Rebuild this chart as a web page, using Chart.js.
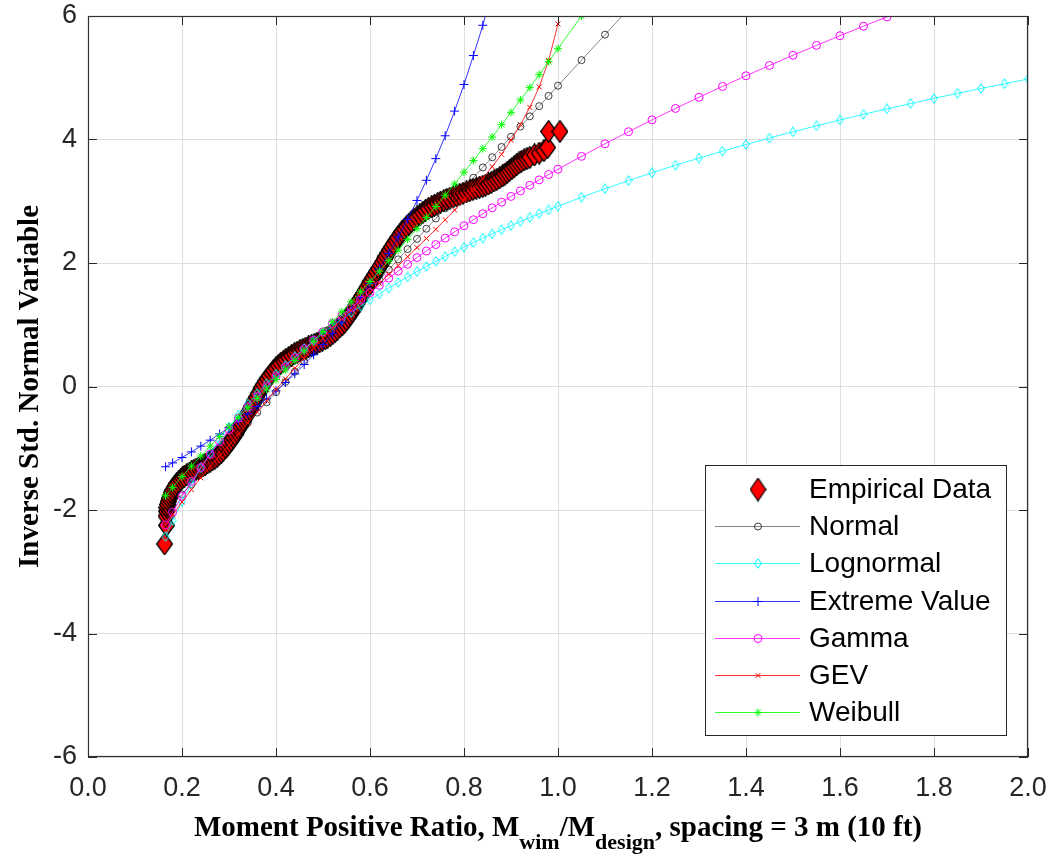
<!DOCTYPE html>
<html>
<head>
<meta charset="utf-8">
<title>Moment Positive Ratio - probability plot</title>
<script src="https://cdn.jsdelivr.net/npm/chart.js@4.4.1/dist/chart.umd.min.js"></script>
<style>
  html, body { margin: 0; padding: 0; background: #fff; }
  #wrap { width: 1053px; height: 856px; }
</style>
</head>
<body>
<div id="wrap"><canvas id="plot" width="1053" height="856"></canvas></div>
<script>
// 经验数据 (Mwim/Mdesign 与 标准正态逆变量)
const empX = [0.163, 0.167, 0.166, 0.167, 0.168, 0.169, 0.171, 0.173, 0.175, 0.177,
  0.180, 0.183, 0.186, 0.189, 0.193, 0.197, 0.201, 0.205, 0.210, 0.215,
  0.220, 0.225, 0.230, 0.235, 0.240, 0.245, 0.250, 0.255, 0.260, 0.265,
  0.270, 0.275, 0.279, 0.284, 0.288, 0.293, 0.297, 0.301, 0.305, 0.309,
  0.313, 0.317, 0.320, 0.324, 0.327, 0.331, 0.334, 0.338, 0.341, 0.345,
  0.348, 0.352, 0.355, 0.359, 0.362, 0.366, 0.369, 0.373, 0.377, 0.382,
  0.386, 0.391, 0.395, 0.400, 0.405, 0.410, 0.416, 0.421, 0.427, 0.433,
  0.439, 0.445, 0.451, 0.457, 0.463, 0.469, 0.475, 0.481, 0.487, 0.493,
  0.499, 0.505, 0.510, 0.516, 0.521, 0.526, 0.531, 0.536, 0.541, 0.546,
  0.550, 0.554, 0.558, 0.562, 0.566, 0.570, 0.574, 0.578, 0.582, 0.586,
  0.590, 0.594, 0.598, 0.602, 0.606, 0.610, 0.614, 0.618, 0.622, 0.626,
  0.630, 0.634, 0.638, 0.642, 0.646, 0.650, 0.655, 0.659, 0.664, 0.668,
  0.673, 0.678, 0.683, 0.688, 0.694, 0.700, 0.706, 0.712, 0.718, 0.724,
  0.731, 0.737, 0.744, 0.750, 0.757, 0.763, 0.770, 0.777, 0.784, 0.791,
  0.798, 0.805, 0.812, 0.819, 0.826, 0.833, 0.840, 0.846, 0.852, 0.858,
  0.864, 0.870, 0.876, 0.882, 0.887, 0.892, 0.897, 0.902, 0.907, 0.912,
  0.917, 0.922, 0.928, 0.934, 0.940, 0.950, 0.960, 0.970, 0.978, 0.980,
  1.004];
const empY = [-2.55, -2.25, -2.10, -2.02, -1.96, -1.91, -1.86, -1.81, -1.77, -1.72,
  -1.68, -1.64, -1.61, -1.57, -1.54, -1.51, -1.48, -1.455, -1.43, -1.405,
  -1.38, -1.36, -1.34, -1.32, -1.30, -1.28, -1.26, -1.235, -1.21, -1.185,
  -1.16, -1.13, -1.10, -1.065, -1.03, -0.99, -0.95, -0.91, -0.87, -0.825,
  -0.78, -0.735, -0.69, -0.645, -0.60, -0.555, -0.51, -0.465, -0.42, -0.37,
  -0.32, -0.27, -0.22, -0.17, -0.12, -0.07, -0.02, 0.03, 0.08, 0.125,
  0.17, 0.215, 0.26, 0.30, 0.34, 0.375, 0.41, 0.44, 0.47, 0.50,
  0.53, 0.555, 0.58, 0.60, 0.62, 0.64, 0.66, 0.68, 0.70, 0.725,
  0.75, 0.775, 0.80, 0.83, 0.86, 0.895, 0.93, 0.965, 1.00, 1.04,
  1.08, 1.125, 1.17, 1.215, 1.26, 1.31, 1.36, 1.41, 1.46, 1.51,
  1.56, 1.61, 1.66, 1.71, 1.76, 1.81, 1.86, 1.91, 1.96, 2.01,
  2.06, 2.11, 2.16, 2.21, 2.26, 2.31, 2.36, 2.41, 2.46, 2.505,
  2.55, 2.59, 2.63, 2.67, 2.71, 2.745, 2.78, 2.815, 2.85, 2.88,
  2.91, 2.935, 2.96, 2.985, 3.01, 3.03, 3.05, 3.07, 3.09, 3.11,
  3.13, 3.15, 3.17, 3.19, 3.21, 3.225, 3.24, 3.26, 3.28, 3.305,
  3.33, 3.355, 3.38, 3.41, 3.44, 3.47, 3.50, 3.53, 3.56, 3.59,
  3.62, 3.645, 3.67, 3.69, 3.71, 3.75, 3.78, 3.82, 3.87, 4.13,
  4.13];

// 拟合曲线的横坐标
const fitX = [0.165, 0.18, 0.20, 0.22, 0.24, 0.26, 0.28, 0.30, 0.32, 0.34,
  0.36, 0.38, 0.40, 0.42, 0.44, 0.46, 0.48, 0.50, 0.52, 0.54,
  0.56, 0.58, 0.60, 0.62, 0.64, 0.66, 0.68, 0.70, 0.72, 0.74,
  0.76, 0.78, 0.80, 0.82, 0.84, 0.86, 0.88, 0.90, 0.92, 0.94,
  0.96, 0.98, 1.00, 1.05, 1.10, 1.15, 1.20, 1.25, 1.30, 1.35,
  1.40, 1.45, 1.50, 1.55, 1.60, 1.65, 1.70, 1.75, 1.80, 1.85,
  1.90, 1.95, 2.00];

const normalY = [-2.03, -1.91, -1.745, -1.58, -1.414, -1.249, -1.083, -0.918, -0.753, -0.587,
  -0.422, -0.256, -0.091, 0.074, 0.24, 0.405, 0.571, 0.736, 0.901, 1.067,
  1.232, 1.398, 1.563, 1.728, 1.894, 2.059, 2.225, 2.39, 2.555, 2.721,
  2.886, 3.052, 3.217, 3.382, 3.548, 3.713, 3.879, 4.044, 4.209, 4.375,
  4.54, 4.706, 4.871, 5.285, 5.698, 6.112];
const lognormalY = [-2.431, -2.173, -1.860, -1.577, -1.318, -1.081, -0.861, -0.656, -0.464, -0.284,
  -0.114, 0.046, 0.199, 0.343, 0.482, 0.614, 0.740, 0.861, 0.978, 1.090,
  1.198, 1.302, 1.403, 1.500, 1.595, 1.686, 1.774, 1.861, 1.944, 2.026,
  2.105, 2.182, 2.257, 2.330, 2.402, 2.472, 2.540, 2.607, 2.672, 2.736,
  2.799, 2.860, 2.920, 3.065, 3.203, 3.335, 3.461, 3.583, 3.699, 3.811,
  3.919, 4.024, 4.124, 4.222, 4.316, 4.407, 4.496, 4.582, 4.666, 4.747,
  4.826, 4.903, 4.979];
const evY = [-1.300, -1.237, -1.150, -1.059, -0.966, -0.869, -0.768, -0.664, -0.555, -0.442,
  -0.324, -0.200, -0.071, 0.065, 0.206, 0.356, 0.514, 0.680, 0.856, 1.042,
  1.238, 1.447, 1.668, 1.905, 2.155, 2.422, 2.707, 3.013, 3.34, 3.69,
  4.06, 4.46, 4.89, 5.36, 5.85, 6.39];
const gammaY = [-2.242, -2.036, -1.779, -1.537, -1.312, -1.096, -0.893, -0.700, -0.513, -0.335,
  -0.164, 0.001, 0.160, 0.314, 0.464, 0.607, 0.750, 0.886, 1.019, 1.149,
  1.277, 1.400, 1.520, 1.638, 1.755, 1.868, 1.979, 2.088, 2.194, 2.299,
  2.403, 2.504, 2.603, 2.701, 2.797, 2.893, 2.986, 3.078, 3.168, 3.258,
  3.346, 3.433, 3.518, 3.727, 3.930, 4.126, 4.318, 4.503, 4.684, 4.860,
  5.032, 5.199, 5.364, 5.524, 5.681, 5.835, 5.986, 6.134];
const gevY = [-2.25, -2.08, -1.87, -1.67, -1.48, -1.30, -1.12, -0.95, -0.77, -0.59,
  -0.41, -0.23, -0.05, 0.125, 0.295, 0.46, 0.625, 0.785, 0.937, 1.088,
  1.236, 1.382, 1.527, 1.671, 1.814, 1.958, 2.102, 2.249, 2.397, 2.545,
  2.700, 2.857, 3.020, 3.19, 3.37, 3.56, 3.76, 3.99, 4.24, 4.52,
  4.85, 5.28, 5.87];
const weibullY = [-1.770, -1.634, -1.458, -1.290, -1.126, -0.966, -0.809, -0.654, -0.499, -0.346,
  -0.194, -0.041, 0.112, 0.266, 0.420, 0.576, 0.731, 0.889, 1.048, 1.209,
  1.371, 1.535, 1.700, 1.867, 2.036, 2.208, 2.382, 2.557, 2.736, 2.915,
  3.097, 3.28, 3.47, 3.66, 3.85, 4.04, 4.24, 4.44, 4.64, 4.84,
  5.05, 5.26, 5.47, 6.00, 6.55];

const seriesNames = ['Empirical Data', 'Normal', 'Lognormal', 'Extreme Value', 'Gamma', 'GEV', 'Weibull'];

// 菱形标记 (MATLAB 的 'd' 比较瘦高)
function diamond(w, h, fill, stroke, lw) {
  const c = document.createElement('canvas');
  c.width = w; c.height = h;
  const g = c.getContext('2d');
  g.beginPath();
  g.moveTo(w / 2, 0.7);
  g.lineTo(w - 0.7, h / 2);
  g.lineTo(w / 2, h - 0.7);
  g.lineTo(0.7, h / 2);
  g.closePath();
  if (fill) { g.fillStyle = fill; g.fill(); }
  g.lineWidth = lw;
  g.strokeStyle = stroke;
  g.stroke();
  return c;
}
const empMarker = diamond(17, 23, '#ff0000', '#000000', 1.3);
const empLegendMarker = diamond(17, 24, '#ff0000', '#000000', 1.2);
const logMarker = diamond(8, 11, null, '#00ffff', 1);

function pts(xs, ys) {
  return ys.map((y, i) => ({ x: xs[i], y: y }));
}

function fitSet(name, ys, color, lineColor, style, r, order) {
  return {
    label: name,
    data: pts(fitX, ys),
    showLine: true,
    borderColor: lineColor,
    borderWidth: 0.8,
    pointStyle: style,
    pointRadius: r,
    pointBorderColor: color,
    pointBackgroundColor: 'rgba(0,0,0,0)',
    pointBorderWidth: 1,
    order: order
  };
}

const datasets = [
  {
    label: seriesNames[0],
    data: pts(empX, empY),
    showLine: false,
    pointStyle: empMarker,
    pointRadius: 7,
    pointBorderColor: '#000',
    pointBackgroundColor: '#ff0000',
    pointBorderWidth: 1,
    order: 7
  },
  fitSet(seriesNames[1], normalY, 'rgba(0,0,0,0.75)', 'rgba(0,0,0,0.6)', 'circle', 3.5, 6),
  fitSet(seriesNames[2], lognormalY, '#00ffff', '#00ffff', logMarker, 4, 5),
  fitSet(seriesNames[3], evY, '#0000ff', '#0000ff', 'cross', 4.5, 4),
  fitSet(seriesNames[4], gammaY, '#ff00ff', '#ff00ff', 'circle', 4, 3),
  fitSet(seriesNames[5], gevY, '#ff0000', '#ff0000', 'crossRot', 3.5, 2),
  fitSet(seriesNames[6], weibullY, '#00ff00', '#00ff00', 'star', 4, 1)
];

// 边框、向内刻度、坐标轴标题和图例
const decor = {
  id: 'decor',
  afterDraw(chart) {
    const ctx = chart.ctx;
    const a = chart.chartArea;
    const xs = chart.scales.x, ys = chart.scales.y;
    ctx.save();

    // 刻度线朝内
    ctx.strokeStyle = '#262626';
    ctx.lineWidth = 1;
    ctx.beginPath();
    xs.ticks.forEach(t => {
      const px = Math.round(xs.getPixelForValue(t.value)) + 0.5;
      ctx.moveTo(px, a.bottom); ctx.lineTo(px, a.bottom - 9);
      ctx.moveTo(px, a.top); ctx.lineTo(px, a.top + 9);
    });
    ys.ticks.forEach(t => {
      const py = Math.round(ys.getPixelForValue(t.value)) + 0.5;
      ctx.moveTo(a.left, py); ctx.lineTo(a.left + 9, py);
      ctx.moveTo(a.right, py); ctx.lineTo(a.right - 9, py);
    });
    ctx.stroke();
    ctx.lineWidth = 1.2;
    ctx.strokeStyle = '#333';
    ctx.strokeRect(a.left + 0.5, a.top + 0.5, a.right - a.left - 1, a.bottom - a.top - 1);

    // y 轴标题
    ctx.fillStyle = '#000';
    ctx.font = 'bold 29px "Liberation Serif", "Times New Roman", serif';
    ctx.save();
    ctx.translate(38, (a.top + a.bottom) / 2);
    ctx.rotate(-Math.PI / 2);
    ctx.textAlign = 'center';
    ctx.textBaseline = 'alphabetic';
    ctx.fillText('Inverse Std. Normal Variable', 0, 0);
    ctx.restore();

    // x 轴标题 (带下标)
    const parts = [
      ['Moment Positive Ratio, M', false],
      ['wim', true],
      ['/M', false],
      ['design', true],
      [', spacing = 3 m (10 ft)', false]
    ];
    const mainFont = 'bold 29px "Liberation Serif", "Times New Roman", serif';
    const subFont = 'bold 22px "Liberation Serif", "Times New Roman", serif';
    let total = 0;
    parts.forEach(p => { ctx.font = p[1] ? subFont : mainFont; total += ctx.measureText(p[0]).width; });
    let cx = (a.left + a.right) / 2 - total / 2;
    ctx.textAlign = 'left';
    ctx.textBaseline = 'alphabetic';
    parts.forEach(p => {
      ctx.font = p[1] ? subFont : mainFont;
      ctx.fillText(p[0], cx, p[1] ? 849 : 836);
      cx += ctx.measureText(p[0]).width;
    });

    // 图例
    const bx = 705, by = 465, bw = 301, bh = 270;
    ctx.fillStyle = '#fff';
    ctx.fillRect(bx, by, bw, bh);
    ctx.strokeStyle = '#262626';
    ctx.lineWidth = 1;
    ctx.strokeRect(bx + 0.5, by + 0.5, bw, bh);
    ctx.font = '28px "Liberation Sans", Arial, sans-serif';
    ctx.textBaseline = 'middle';
    chart.data.datasets.forEach((ds, i) => {
      const ry = Math.round(by + 24 + i * 37.2);
      if (ds.showLine) {
        ctx.strokeStyle = ds.borderColor;
        ctx.lineWidth = ds.borderWidth;
        ctx.beginPath();
        ctx.moveTo(715, ry + 0.5);
        ctx.lineTo(800, ry + 0.5);
        ctx.stroke();
      }
      ctx.save();
      ctx.strokeStyle = ds.pointBorderColor;
      ctx.fillStyle = ds.pointBackgroundColor;
      ctx.lineWidth = ds.pointBorderWidth;
      Chart.helpers.drawPoint(ctx, {
        pointStyle: i === 0 ? empLegendMarker : ds.pointStyle,
        radius: ds.pointRadius,
        rotation: 0,
        borderWidth: ds.pointBorderWidth
      }, 758, ry + 0.5);
      ctx.restore();
      ctx.fillStyle = '#000';
      ctx.fillText(ds.label, 809, ry + 1);
    });
    ctx.restore();
  }
};

new Chart(document.getElementById('plot'), {
  type: 'scatter',
  data: { datasets: datasets },
  options: {
    responsive: false,
    animation: false,
    devicePixelRatio: 1,
    events: [],
    layout: { padding: { left: 0, right: 25, top: 16, bottom: 0 } },
    plugins: { legend: { display: false }, tooltip: { enabled: false } },
    scales: {
      x: {
        type: 'linear', min: 0, max: 2,
        grid: { color: '#dedede', lineWidth: 1, drawTicks: false },
        border: { display: false },
        ticks: {
          stepSize: 0.2, padding: 15, color: '#262626',
          font: { family: '"Liberation Sans", Arial, sans-serif', size: 27 },
          callback: v => Number(v).toFixed(1)
        },
        afterFit: s => { s.height = 99; s.paddingLeft = 0; s.paddingRight = 0; }
      },
      y: {
        type: 'linear', min: -6, max: 6,
        grid: { color: '#dedede', lineWidth: 1, drawTicks: false },
        border: { display: false },
        ticks: {
          stepSize: 2, padding: 11, color: '#262626',
          font: { family: '"Liberation Sans", Arial, sans-serif', size: 27 },
          callback: v => String(v)
        },
        afterFit: s => { s.width = 88; s.paddingTop = 0; s.paddingBottom = 0; }
      }
    }
  },
  plugins: [decor]
});
</script>
</body>
</html>
